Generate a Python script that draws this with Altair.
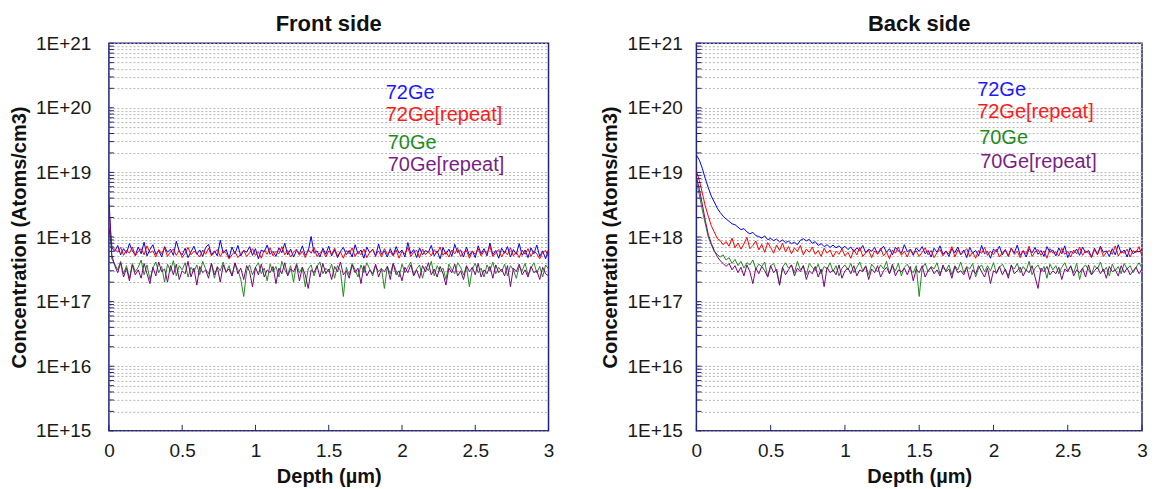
import sys
import altair as alt
import pandas as pd

# ---------------- data (concentration values in units of 1e17 atoms/cm3) ----------------
UNIT = 1e17

DEPTH = [
    0.00,
    0.02, 0.04, 0.06, 0.08, 0.10, 0.12, 0.14, 0.16, 0.18, 0.20,
    0.22, 0.24, 0.26, 0.28, 0.30, 0.32, 0.34, 0.36, 0.38, 0.40,
    0.42, 0.44, 0.46, 0.48, 0.50, 0.52, 0.54, 0.56, 0.58, 0.60,
    0.62, 0.64, 0.66, 0.68, 0.70, 0.72, 0.74, 0.76, 0.78, 0.80,
    0.82, 0.84, 0.86, 0.88, 0.90, 0.92, 0.94, 0.96, 0.98, 1.00,
    1.02, 1.04, 1.06, 1.08, 1.10, 1.12, 1.14, 1.16, 1.18, 1.20,
    1.22, 1.24, 1.26, 1.28, 1.30, 1.32, 1.34, 1.36, 1.38, 1.40,
    1.42, 1.44, 1.46, 1.48, 1.50, 1.52, 1.54, 1.56, 1.58, 1.60,
    1.62, 1.64, 1.66, 1.68, 1.70, 1.72, 1.74, 1.76, 1.78, 1.80,
    1.82, 1.84, 1.86, 1.88, 1.90, 1.92, 1.94, 1.96, 1.98, 2.00,
    2.02, 2.04, 2.06, 2.08, 2.10, 2.12, 2.14, 2.16, 2.18, 2.20,
    2.22, 2.24, 2.26, 2.28, 2.30, 2.32, 2.34, 2.36, 2.38, 2.40,
    2.42, 2.44, 2.46, 2.48, 2.50, 2.52, 2.54, 2.56, 2.58, 2.60,
    2.62, 2.64, 2.66, 2.68, 2.70, 2.72, 2.74, 2.76, 2.78, 2.80,
    2.82, 2.84, 2.86, 2.88, 2.90, 2.92, 2.94, 2.96, 2.98, 3.00,
]

FRONT_72GE = [
    14,
    6.8, 6.0, 7.4, 5.3, 6.6, 5.6, 7.9, 6.1, 5.2, 7.0,
    5.5, 8.3, 5.1, 6.4, 7.6, 5.4, 6.2, 4.9, 7.1, 5.8,
    6.5, 5.2, 8.6, 6.0, 5.3, 6.7, 4.8, 5.9, 7.2, 5.4,
    6.3, 5.0, 6.9, 7.7, 5.3, 6.1, 5.1, 8.9, 5.6, 6.4,
    4.7, 7.0, 5.5, 7.4, 5.1, 6.2, 5.8, 7.1, 5.2, 6.6,
    4.6, 6.3, 5.9, 7.5, 5.4, 6.0, 5.0, 6.8, 5.7, 8.0,
    5.3, 6.5, 4.9, 6.2, 5.5, 7.3, 5.2, 6.0, 10.2, 5.6,
    6.1, 4.9, 6.7, 5.4, 7.2, 5.1, 6.4, 4.8, 6.0, 6.9,
    5.3, 6.2, 4.9, 7.6, 5.5, 6.3, 4.7, 7.0, 5.7, 6.5,
    5.0, 7.8, 5.4, 6.1, 4.9, 6.6, 5.2, 7.1, 5.6, 6.3,
    4.9, 8.2, 5.5, 6.4, 4.8, 6.8, 5.3, 6.2, 5.8, 7.4,
    5.1, 6.1, 4.6, 6.9, 5.4, 6.5, 5.0, 7.7, 5.7, 6.3,
    4.9, 7.0, 5.2, 6.1, 4.8, 7.3, 5.5, 6.6, 5.1, 8.1,
    5.3, 6.2, 4.7, 6.7, 5.6, 7.1, 4.9, 6.4, 5.4, 7.9,
    5.2, 6.3, 4.8, 6.8, 5.5, 7.5, 5.0, 6.1, 4.6, 6.4,
]

FRONT_72GE_REPEAT = [
    26,
    7.2, 6.5, 5.8, 6.9, 5.2, 6.3, 5.6, 7.0, 5.1, 6.0,
    6.6, 5.3, 7.3, 5.7, 6.1, 4.9, 6.4, 5.5, 6.8, 5.0,
    5.9, 6.5, 5.2, 6.2, 4.8, 5.6, 6.9, 5.3, 6.0, 5.5,
    4.9, 6.3, 5.4, 6.7, 5.1, 5.8, 6.4, 5.0, 6.1, 5.6,
    4.6, 5.3, 6.0, 4.8, 5.5, 6.2, 5.0, 5.7, 6.6, 5.2,
    5.9, 4.7, 6.3, 5.4, 6.8, 5.1, 6.0, 5.5, 7.1, 5.3,
    6.2, 4.9, 5.8, 6.5, 5.2, 6.0, 4.8, 6.4, 5.6, 6.9,
    5.0, 5.7, 6.3, 4.9, 6.1, 5.4, 6.7, 5.1, 5.9, 4.7,
    6.2, 5.5, 6.8, 5.0, 6.0, 5.3, 6.5, 4.8, 5.8, 6.4,
    5.2, 6.1, 4.9, 6.6, 5.4, 5.9, 5.1, 6.3, 4.7, 6.0,
    5.5, 6.9, 5.0, 5.8, 6.2, 4.8, 6.5, 5.3, 6.0, 5.1,
    6.4, 5.6, 7.0, 5.2, 5.9, 4.9, 6.3, 5.5, 6.7, 5.0,
    5.8, 6.2, 4.7, 6.0, 5.4, 6.6, 5.1, 6.1, 5.6, 7.2,
    5.0, 5.7, 6.4, 4.9, 6.0, 5.3, 6.8, 5.1, 5.9, 4.8,
    6.3, 5.4, 6.6, 5.0, 6.1, 5.5, 4.6, 5.8, 6.2, 4.9,
]

FRONT_70GE = [
    30,
    4.6, 3.8, 3.1, 4.2, 2.7, 3.6, 2.3, 3.9, 2.9, 3.4,
    4.4, 2.6, 3.7, 2.2, 3.3, 4.1, 2.8, 3.5, 2.0, 3.8,
    3.0, 4.3, 2.5, 3.6, 3.1, 4.0, 2.4, 3.4, 2.9, 3.7,
    2.6, 4.2, 3.2, 2.7, 3.9, 2.3, 3.5, 3.0, 4.1, 2.8,
    3.6, 2.5, 3.9, 3.1, 2.2, 1.2, 3.0, 3.7, 2.6, 3.4,
    4.0, 2.7, 3.3, 2.1, 3.8, 2.9, 3.5, 2.4, 4.2, 3.1,
    2.6, 3.6, 2.0, 3.9, 2.8, 3.4, 1.7, 3.2, 3.7, 2.5,
    3.5, 4.1, 2.7, 3.3, 2.9, 3.8, 2.3, 3.6, 3.0, 1.2,
    3.4, 2.6, 3.9, 3.1, 2.4, 3.7, 2.8, 4.0, 3.2, 2.5,
    3.6, 2.9, 3.3, 1.6, 3.5, 2.7, 3.9, 3.0, 2.4, 3.8,
    2.8, 3.4, 4.1, 2.6, 3.2, 3.7, 2.3, 3.5, 3.0, 4.2,
    2.5, 3.6, 2.9, 3.3, 2.2, 3.8, 3.1, 2.7, 4.0, 3.4,
    2.6, 3.5, 1.7, 3.2, 3.9, 2.8, 3.3, 2.4, 3.7, 3.0,
    4.1, 2.7, 3.4, 2.9, 3.8, 2.5, 3.6, 3.1, 2.3, 3.5,
    3.0, 3.9, 2.6, 3.3, 4.0, 2.8, 3.5, 2.4, 3.7, 3.2,
]

FRONT_70GE_REPEAT = [
    40,
    5.2, 3.6, 2.8, 4.0, 2.4, 3.3, 2.1, 3.7, 2.6, 3.1,
    2.3, 3.9, 2.7, 1.9, 3.4, 2.5, 4.1, 2.9, 3.2, 2.0,
    3.6, 2.6, 3.8, 2.2, 3.0, 2.7, 4.2, 2.4, 3.3, 1.8,
    3.5, 2.8, 3.1, 2.3, 3.9, 2.6, 3.4, 2.0, 3.7, 2.9,
    3.2, 2.5, 4.0, 2.7, 3.3, 2.2, 3.6, 2.9, 1.7, 3.4,
    2.6, 3.8, 2.4, 3.1, 2.8, 3.5, 1.9, 3.3, 2.7, 4.0,
    2.5, 3.2, 2.9, 3.7, 2.1, 3.4, 2.6, 1.6, 3.1, 2.8,
    3.6, 2.4, 3.9, 2.7, 3.2, 2.2, 3.5, 2.9, 4.1, 2.6,
    3.0, 2.3, 3.7, 2.8, 3.3, 1.9, 3.6, 2.5, 3.1, 2.7,
    3.8, 2.4, 3.2, 2.9, 3.5, 2.2, 3.9, 2.6, 3.0, 2.1,
    3.4, 2.8, 3.7, 2.5, 3.1, 2.3, 3.6, 2.9, 4.0, 2.6,
    3.2, 2.4, 3.5, 2.7, 1.8, 3.3, 2.8, 3.8, 2.5, 3.0,
    2.2, 3.6, 2.9, 3.4, 2.6, 3.9, 2.4, 3.1, 2.7, 3.5,
    2.3, 3.7, 2.8, 3.2, 2.5, 3.6, 1.7, 3.3, 2.9, 3.8,
    2.6, 3.1, 2.4, 3.5, 2.8, 3.0, 2.2, 3.4, 2.7, 2.5,
]

BACK_72GE = [
    185,
    155, 115, 80, 58, 43, 35, 28, 24, 21, 19,
    17.5, 16.0, 15.5, 14.2, 13.0, 13.5, 12.0, 11.2, 11.8, 10.5,
    10.2, 9.6, 10.4, 9.1, 9.5, 8.8, 9.3, 8.4, 9.0, 8.2,
    8.6, 7.9, 8.3, 7.6, 8.9, 9.4, 8.7, 9.2, 8.0, 8.5,
    7.4, 7.9, 7.1, 7.6, 6.9, 7.5, 6.8, 7.3, 6.6, 7.2,
    6.4, 7.0, 5.9, 6.8, 6.2, 7.4, 5.7, 6.5, 6.0, 6.9,
    5.5, 6.3, 7.2, 5.8, 6.6, 5.3, 6.9, 6.1, 5.6, 7.6,
    5.9, 6.4, 5.2, 6.8, 6.0, 7.1, 5.5, 6.2, 4.9, 6.7,
    5.8, 7.3, 5.4, 6.1, 5.0, 6.6, 5.7, 7.0, 5.3, 6.3,
    4.8, 6.9, 5.6, 6.2, 5.1, 7.4, 5.5, 6.0, 4.7, 6.5,
    5.9, 7.2, 5.3, 6.4, 5.0, 6.7, 5.6, 7.5, 5.2, 6.1,
    4.9, 6.6, 5.7, 6.9, 5.4, 6.2, 5.0, 7.1, 5.8, 6.3,
    5.1, 6.8, 5.5, 7.3, 4.8, 6.0, 5.6, 6.5, 5.2, 7.0,
    5.7, 6.2, 4.9, 6.7, 5.4, 7.2, 5.8, 6.1, 5.0, 6.6,
    5.3, 7.6, 5.6, 6.3, 4.9, 6.8, 5.5, 6.1, 5.9, 6.4,
]

BACK_72GE_REPEAT = [
    105,
    75, 48, 30, 21, 15, 12, 9.5, 8.8, 7.6, 8.5,
    7.2, 9.6, 6.8, 8.1, 6.5, 7.8, 9.9, 6.6, 7.4, 8.7,
    6.3, 7.7, 5.8, 8.2, 6.9, 5.6, 7.5, 6.2, 8.0, 5.9,
    7.1, 5.5, 6.8, 6.0, 7.4, 5.3, 6.5, 5.8, 7.0, 5.4,
    6.2, 5.0, 6.7, 5.6, 6.3, 4.9, 6.0, 5.4, 6.6, 5.1,
    5.8, 4.7, 6.4, 5.3, 6.9, 5.0, 5.7, 6.2, 4.8, 6.1,
    5.4, 6.7, 5.1, 5.9, 4.6, 6.3, 5.6, 7.0, 5.2, 6.0,
    4.9, 6.5, 5.5, 6.1, 5.0, 5.8, 6.8, 5.3, 6.2, 4.8,
    5.7, 6.4, 5.1, 6.0, 5.5, 7.1, 4.9, 6.3, 5.4, 5.9,
    6.6, 5.0, 5.8, 4.7, 6.2, 5.6, 6.9, 5.2, 6.0, 5.3,
    6.5, 4.9, 5.7, 6.3, 5.1, 6.8, 5.4, 6.0, 4.8, 6.2,
    5.5, 7.2, 5.0, 5.9, 6.4, 5.2, 6.1, 4.7, 6.6, 5.6,
    5.9, 5.1, 6.7, 5.4, 6.0, 4.9, 6.3, 5.5, 7.0, 5.2,
    6.1, 5.7, 4.8, 6.4, 5.3, 6.9, 5.0, 5.8, 6.2, 5.4,
    7.3, 5.1, 6.0, 5.6, 6.5, 4.9, 6.2, 5.7, 7.1, 5.0,
]

BACK_70GE = [
    72,
    45, 26, 16, 10, 7.6, 6.0, 5.4, 4.9, 5.3, 4.4,
    4.8, 3.9, 4.5, 3.6, 4.2, 3.3, 4.0, 3.7, 4.4, 3.2,
    3.8, 3.5, 4.1, 2.4, 3.6, 3.9, 2.9, 1.8, 3.4, 4.0,
    3.3, 3.7, 2.8, 4.2, 3.1, 3.6, 2.6, 3.9, 3.4, 3.0,
    3.8, 2.7, 3.5, 3.2, 4.0, 2.9, 3.6, 2.5, 3.3, 3.7,
    3.1, 3.9, 2.8, 3.4, 4.1, 3.0, 3.6, 2.6, 3.8, 3.3,
    2.9, 3.7, 3.2, 4.2, 2.7, 3.5, 3.0, 3.9, 2.5, 3.4,
    3.8, 3.1, 2.8, 3.6, 1.2, 3.3, 3.9, 2.9, 3.5, 3.2,
    4.0, 2.7, 3.4, 3.0, 3.7, 2.6, 3.6, 3.1, 4.1, 2.8,
    3.5, 3.2, 3.9, 2.4, 3.3, 3.7, 2.9, 3.6, 3.0, 4.0,
    2.7, 3.4, 3.8, 3.1, 2.5, 3.6, 3.2, 3.9, 2.8, 3.5,
    3.0, 4.2, 2.6, 3.3, 3.7, 2.9, 3.5, 2.3, 3.8, 3.1,
    3.6, 2.7, 3.4, 4.0, 3.0, 3.5, 2.8, 3.9, 2.2, 3.3,
    3.7, 3.1, 2.6, 3.6, 3.2, 4.1, 2.9, 3.4, 2.5, 3.8,
    3.0, 3.5, 2.7, 3.9, 3.2, 3.6, 2.8, 3.4, 4.0, 3.3,
]

BACK_70GE_REPEAT = [
    85,
    55, 32, 18, 11, 8.0, 6.2, 5.0, 4.3, 3.9, 3.5,
    3.9, 3.1, 3.6, 2.8, 3.4, 2.5, 3.7, 2.9, 1.9, 3.3,
    2.7, 3.5, 3.0, 2.4, 3.6, 2.8, 3.2, 1.8, 3.4, 2.6,
    3.1, 3.7, 2.5, 3.3, 2.9, 3.6, 2.2, 3.0, 2.7, 3.5,
    2.4, 3.2, 1.7, 3.4, 2.8, 3.1, 2.6, 3.7, 2.3, 3.0,
    3.3, 2.7, 3.6, 2.5, 3.1, 2.9, 3.5, 2.2, 3.2, 2.8,
    3.6, 2.4, 3.0, 3.4, 2.7, 3.8, 2.5, 3.1, 2.9, 3.3,
    2.6, 3.5, 2.1, 3.2, 2.8, 3.6, 2.4, 3.0, 3.4, 2.7,
    3.1, 2.5, 3.7, 2.9, 3.2, 2.3, 3.5, 2.8, 3.0, 2.6,
    3.4, 2.2, 3.1, 2.7, 3.6, 2.9, 2.4, 3.3, 1.9, 3.0,
    2.8, 3.5, 2.6, 3.2, 2.3, 3.7, 2.7, 3.0, 3.4, 2.5,
    3.1, 2.8, 3.6, 2.4, 1.6, 3.3, 2.9, 3.5, 2.6, 3.0,
    2.7, 3.4, 2.2, 3.2, 2.9, 3.6, 2.5, 3.1, 2.8, 3.3,
    2.4, 3.7, 2.6, 3.0, 3.4, 2.7, 3.2, 2.3, 3.5, 2.9,
    3.1, 2.5, 3.6, 2.8, 3.3, 2.6, 3.0, 3.4, 2.7, 3.2,
]

SERIES = ["72Ge", "72Ge[repeat]", "70Ge", "70Ge[repeat]"]
LINE_COLORS = ["#0000ff", "#ff0000", "#228b22", "#800080"]
TEXT_COLORS = ["#1a1aff", "#ff1a1a", "#1e8c1e", "#7a1f85"]

PANEL_TITLES = ["Front side", "Back side"]
X_TICKS = [0, 0.5, 1, 1.5, 2, 2.5, 3]
Y_DECADES = [15, 16, 17, 18, 19, 20, 21]

# ---------------- styling ----------------
FONT = "Liberation Sans"
BORDER = "#23237a"
Y_VALUES = [m * 10.0 ** e for e in Y_DECADES[:-1] for m in range(1, 10)] + [10.0 ** Y_DECADES[-1]]
X_TITLE = "Depth (µm)"
Y_TITLE = "Concentration (Atoms/cm3)"


def panel(title, values_list, width, height, legend_xy, ylabel_pad):
    xscale = alt.Scale(domain=[0, 3], nice=False, zero=False)
    yscale = alt.Scale(type="log", domain=[10.0 ** Y_DECADES[0], 10.0 ** Y_DECADES[-1]], nice=False)
    xaxis = alt.Axis(values=X_TICKS, format="~g", grid=False, ticks=False, domain=False, labelFlush=False,
                     labelFont=FONT, labelFontSize=19, labelColor="#1a1a1a", labelPadding=11,
                     titleFont=FONT, titleFontSize=20, titleFontWeight="bold", titleColor="#111",
                     titlePadding=6)
    yaxis = alt.Axis(values=Y_VALUES, grid=True, gridColor="#b4b4b4", gridDash=[2, 2], gridWidth=1,
                     ticks=False, domain=False, labelOverlap=False,
                     labelExpr="abs(log(datum.value)/LN10 - round(log(datum.value)/LN10)) < 0.001 ? '1E+' + round(log(datum.value)/LN10) : ''",
                     labelFont=FONT, labelFontSize=19, labelColor="#1a1a1a", labelPadding=ylabel_pad,
                     titleFont=FONT, titleFontSize=20, titleFontWeight="bold", titleColor="#111",
                     titlePadding=6)
    X = lambda: alt.X("depth:Q", scale=xscale, axis=xaxis, title=X_TITLE)
    Y = lambda: alt.Y("conc:Q", scale=yscale, axis=yaxis, title=Y_TITLE)

    layers = []
    for name, vals, color in zip(SERIES, values_list, LINE_COLORS):
        n = min(len(DEPTH), len(vals))
        if len(vals) != len(DEPTH):
            print(f"length mismatch {title} {name}: {len(vals)}", file=sys.stderr)
        df = pd.DataFrame({"depth": DEPTH[:n], "conc": [v * UNIT for v in vals[:n]]})
        layers.append(
            alt.Chart(df).mark_line(color=color, strokeWidth=1, clip=True).encode(x=X(), y=Y())
        )
    # inner tick marks along the left and bottom borders
    ytick_df = pd.DataFrame({"conc": Y_VALUES})
    layers.append(
        alt.Chart(ytick_df).mark_rule(color=BORDER, strokeWidth=1).encode(
            y=Y(), x=alt.value(0), x2=alt.value(5)
        )
    )
    xtick_df = pd.DataFrame({"depth": X_TICKS})
    layers.append(
        alt.Chart(xtick_df).mark_rule(color=BORDER, strokeWidth=1).encode(
            x=X(), y=alt.value(height), y2=alt.value(height - 6)
        )
    )
    # in-plot legend text
    for name, color, (lx, ly) in zip(SERIES, TEXT_COLORS, legend_xy):
        layers.append(
            alt.Chart(pd.DataFrame({"label": [name]})).mark_text(
                align="left", baseline="middle", font=FONT, fontSize=20, color=color
            ).encode(text="label:N", x=alt.value(lx), y=alt.value(ly))
        )
    return alt.layer(*layers).properties(
        width=width, height=height,
        title=alt.TitleParams(title, font=FONT, fontSize=22, fontWeight="bold", color="#111",
                              anchor="middle", offset=-2),
    )


left = panel(PANEL_TITLES[0],
             [FRONT_72GE, FRONT_72GE_REPEAT, FRONT_70GE, FRONT_70GE_REPEAT],
             440, 388, [(277, 50), (277, 72), (279, 100), (279, 122)], 18)
right = panel(PANEL_TITLES[1],
              [BACK_72GE, BACK_72GE_REPEAT, BACK_70GE, BACK_70GE_REPEAT],
              446, 388, [(281, 47), (281, 69), (283, 95), (284, 119)], 14)

chart = alt.hconcat(left, right, spacing=44).resolve_scale(
    x="independent", y="independent"
).properties(
    padding={"left": 0, "top": 4, "right": 0, "bottom": 0}
).configure_view(stroke=BORDER, strokeWidth=1.5)

chart.save("out.html", embed_options={"renderer": "svg", "actions": False})
